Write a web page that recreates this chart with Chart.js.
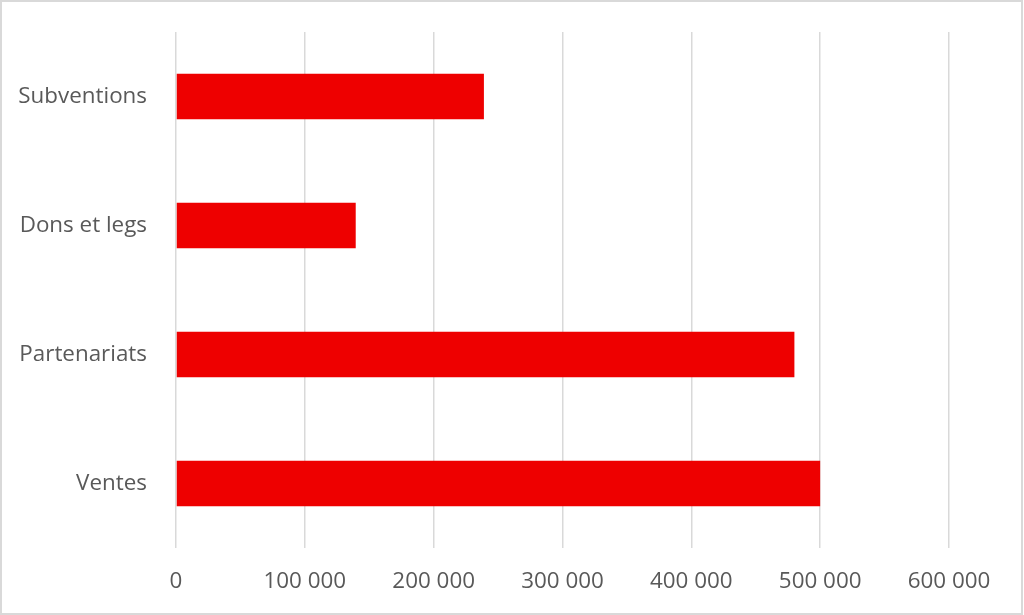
<!DOCTYPE html>
<html>
<head>
<meta charset="utf-8">
<script src="https://cdn.jsdelivr.net/npm/chart.js@4"></script>
<style>
  html, body { margin:0; padding:0; background:#fff; }
  #wrap { position:absolute; left:0; top:0; width:1024px; height:615px; }
  #frame { position:absolute; left:0; top:0; width:1023px; height:615px; box-sizing:border-box; border:2px solid #d9d9d9; pointer-events:none; }
</style>
</head>
<body>
<div id="wrap"><canvas id="c" width="1024" height="615"></canvas></div>
<div id="frame"></div>
<script>
const categories = ["Subventions", "Dons et legs", "Partenariats", "Ventes"];
const values = [239000, 139500, 480000, 500000];
const tickValues = [0, 100000, 200000, 300000, 400000, 500000, 600000];

function fmt(v) {
  return String(v).replace(/\B(?=(\d{3})+(?!\d))/g, " ");
}

const FONT = { family: "'Open Sans', sans-serif", size: 22.4 };
const TEXT = "#595959";

new Chart(document.getElementById("c"), {
  type: "bar",
  data: {
    labels: categories,
    datasets: [{
      data: values,
      backgroundColor: "#EE0000",
      borderWidth: 0,
      categoryPercentage: 1,
      barPercentage: 0.353
    }]
  },
  options: {
    indexAxis: "y",
    responsive: false,
    animation: false,
    layout: { padding: { left: 0, top: 32, right: 75, bottom: 0 } },
    plugins: { legend: { display: false }, tooltip: { enabled: false } },
    scales: {
      x: {
        min: 0, max: 600000,
        afterBuildTicks: (s) => { s.ticks = tickValues.map(v => ({ value: v })); },
        afterFit: (s) => { s.height = 615 - 548; },
        grid: { color: "#d9d9d9", lineWidth: 1.5, drawTicks: false },
        border: { display: false },
        ticks: { color: TEXT, font: FONT, padding: 20, callback: (v) => fmt(v), maxRotation: 0 }
      },
      y: {
        afterFit: (s) => { s.width = 176; s.paddingTop = 0; s.paddingBottom = 0; },
        grid: { display: false, drawTicks: false },
        border: { display: false },
        ticks: { color: TEXT, font: FONT, padding: 29 }
      }
    }
  }
});
</script>
</body>
</html>
